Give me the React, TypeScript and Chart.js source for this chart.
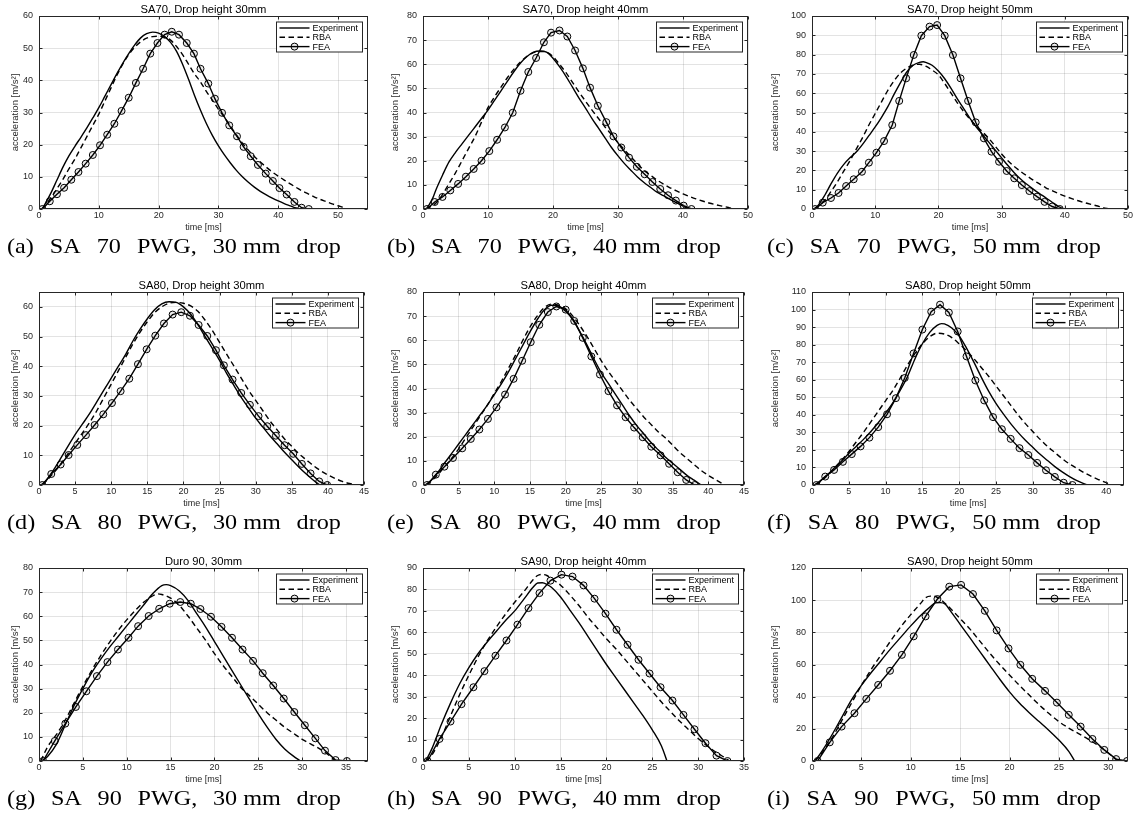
import { useEffect, useRef } from "react";
import { Chart, registerables } from "chart.js";

Chart.register(...registerables);

type Pt = [number, number];

// ---------- (a) SA 70 PWG, 30 mm drop ----------
const expA: Pt[] = [[0.5,0],[1,1.5],[2,5],[3,9],[4,13],[5,16.5],[6,19.5],[7,22.3],[8,25.2],[9,28.3],[10,31.5],[11,35],[12,38.5],[13,42],[14,45.3],[15,48.3],[16,51],[17,53.2],[18,54.5],[19,55],[20,54.7],[21,53.6],[22,51.8],[23,49],[24,45],[25,40.3],[26,35.3],[27,30.7],[28,26.5],[29,22.8],[30,19.6],[31,16.8],[32,14.3],[33,12],[34,10],[35,8.3],[36,6.8],[37,5.5],[38,4.4],[39,3.4],[40,2.5],[41,1.7],[42,1],[43,0.3],[43.6,0]];
const rbaA: Pt[] = [[0.5,0],[1,1],[2,3.5],[3,6.3],[4,9.2],[5,12.5],[6,15.5],[7,19],[8,22.5],[9,26],[10,29.5],[11,33.5],[12,37.5],[13,41.5],[14,45],[15,48],[16,50.3],[17,52],[18,53.1],[19,53.6],[20,53.7],[21,53.4],[22,52.5],[23,50.5],[24,48],[25,45],[26,42],[27,39.5],[28,36.5],[29,33.8],[30,31],[31,28.5],[32,25.8],[33,23],[34,20.5],[35,18.3],[36,16.3],[37,14.6],[38,13],[39,11.5],[40,10.2],[41,9],[42,7.8],[43,6.7],[44,5.6],[45,4.7],[46,3.8],[47,3],[48,2.3],[49,1.6],[50,1],[51,0.4],[51.5,0]];
const feaA: Pt[] = [[0.56,0],[1.8,2.4],[3.0,4.6],[4.2,6.6],[5.4,9.1],[6.6,11.5],[7.8,14.1],[9.0,16.8],[10.2,19.8],[11.4,23.1],[12.6,26.5],[13.8,30.5],[15.0,34.6],[16.2,39.2],[17.4,43.6],[18.6,48.3],[19.8,51.6],[21.0,54.2],[22.2,55.1],[23.4,54.2],[24.7,51.6],[25.9,48.3],[27.0,43.6],[28.3,39.0],[29.4,34.3],[30.6,29.9],[31.8,26.0],[33.1,22.6],[34.2,19.3],[35.4,16.4],[36.6,13.7],[37.9,11.0],[39.1,8.7],[40.2,6.5],[41.4,4.5],[42.7,2.2],[43.9,0.4],[45.1,0]];

// ---------- (b) SA 70 PWG, 40 mm drop ----------
const expB: Pt[] = [[0.5,0],[1,2],[1.5,4.5],[2,8],[3,14],[4,19.5],[5,23.5],[6,27],[7,30.5],[8,34],[9,37.5],[10,41],[11,45],[12,49],[13,53],[14,57],[15,60.5],[16,63.2],[17,65],[18,65.5],[19,65],[20,62.5],[21,59],[22,55],[23,50.5],[24,46],[25,41.8],[26,37.5],[27,33.5],[28,29.5],[29,25.5],[30,22],[31,18.8],[32,16],[33,13.3],[34,11],[35,9],[36,7],[37,5.5],[38,4],[39,2.6],[40,1.2],[40.8,0]];
const rbaB: Pt[] = [[0.5,0],[1,0.8],[2,2.5],[3,6],[4,10.5],[5,15],[6,20],[7,25],[8,30],[9,36],[10,42],[11,46.5],[12,50.5],[13,54.5],[14,58],[15,61],[16,63.3],[17,64.8],[18,65.3],[19,65],[20,63.2],[21,60],[22,56.5],[23,52.5],[24,48.5],[25,44.7],[26,41],[27,37.5],[28,34],[29,30.8],[30,27.5],[31,24.5],[32,21.5],[33,18.7],[34,16],[35,14],[36,12],[37,10.3],[38,8.8],[39,7.5],[40,6.3],[41,5.2],[42,4.2],[43,3.3],[44,2.5],[45,1.8],[46,1.2],[47,0.6],[48,0]];
const feaB: Pt[] = [[0.6,0],[1.8,2.9],[3.0,5.0],[4.2,7.7],[5.4,10.4],[6.6,13.4],[7.8,16.6],[9.0,20.0],[10.2,24.0],[11.4,28.7],[12.6,33.8],[13.8,39.9],[15.0,49.0],[16.2,56.8],[17.4,62.6],[18.6,69.1],[19.7,73.1],[21.0,74.0],[22.2,71.5],[23.4,65.7],[24.6,58.3],[25.7,50.3],[26.9,42.8],[28.2,36.0],[29.3,30.1],[30.5,25.5],[31.7,21.3],[32.9,17.5],[34.1,14.4],[35.3,11.2],[36.5,8.3],[37.7,5.7],[38.9,3.5],[40.1,1.4],[41.3,0]];

// ---------- (c) SA 70 PWG, 50 mm drop ----------
const expC: Pt[] = [[0.3,0],[1,2],[2,7],[3,13],[4,18.5],[5,23],[6,26.5],[7,29.5],[8,33.5],[9,38],[10,42.5],[11,47.5],[12,53],[13,59.5],[14,65.5],[15,71],[16,74.5],[17,76],[17.6,76.3],[18,76],[19,74.5],[20,71.5],[21,67.5],[22,62.5],[23,57],[24,52],[25,47],[26,42.5],[27,38.5],[28,34.5],[29,30.5],[30,26.5],[31,22.5],[32,18.8],[33,15.5],[34,12.8],[35,10.3],[36,8],[37,5.8],[38,3.5],[39,1.3],[39.8,0]];
const rbaC: Pt[] = [[0.5,0],[1,1.5],[2,4.5],[3,9],[4,14],[5,19.5],[6,25],[7,31],[8,37],[9,43.5],[10,49.5],[11,55.5],[12,61.5],[13,66.5],[14,70.5],[15,73],[16,74.5],[17,75],[18,74],[19,72],[20,69.5],[21,65],[22,60],[23,55],[24,50.5],[25,46.5],[26,43],[27,40],[28,36.5],[29,32.5],[30,28.5],[31,25],[32,22],[33,19.5],[34,17.2],[35,15],[36,13],[37,11],[38,9.5],[39,8],[40,6.7],[41,5.5],[42,4.4],[43,3.4],[44,2.5],[45,1.7],[46,0.8],[47,0]];
const feaC: Pt[] = [[0.5,0],[1.7,3.3],[3.0,5.7],[4.2,8.3],[5.4,11.9],[6.6,15.4],[7.9,19.3],[9.0,24],[10.2,29.2],[11.4,35.2],[12.7,43.5],[13.8,56],[14.9,67.7],[16.1,79.8],[17.3,89.8],[18.6,94.5],[19.8,95.3],[21.0,89.8],[22.3,79.8],[23.5,67.7],[24.7,56],[25.9,44.9],[27.2,36.6],[28.4,29.7],[29.6,24.5],[30.8,19.7],[32.0,15.9],[33.2,12.4],[34.4,9.3],[35.6,6.4],[36.8,3.7],[38.0,1.3],[39.2,0]];

// ---------- (d) SA 80 PWG, 30 mm drop ----------
const expD: Pt[] = [[0.3,0],[1,1.5],[2,5],[3,9],[4,13],[5,17],[6,20.5],[7,24],[8,28],[9,32],[10,36],[11,40],[12,44],[13,48.5],[14,52.5],[15,56],[16,59],[17,61],[18,61.7],[19,61.5],[20,60],[21,57.5],[22,54],[23,50],[24,46],[25,42],[26,37.5],[27,33.5],[28,29.5],[29,26],[30,22.5],[31,19.5],[32,16.5],[33,13.8],[34,11],[35,8.5],[36,6],[37,3.7],[38,1.6],[38.9,0]];
const rbaD: Pt[] = [[0.5,0],[1,1.3],[2,4],[3,7],[4,10.5],[5,14],[6,17.5],[7,21],[8,25],[9,29.5],[10,34],[11,38.5],[12,43],[13,47.5],[14,51.5],[15,55],[16,58],[17,60],[18,61.2],[19,61.5],[20,61.2],[21,60.3],[22,58.5],[23,55.5],[24,52],[25,48],[26,44],[27,40],[28,36],[29,32],[30,28.5],[31,25],[32,21.5],[33,18.5],[34,15.5],[35,13],[36,10.5],[37,8.5],[38,6.5],[39,4.8],[40,3.4],[41,2.2],[42,1.2],[43,0.5],[44,0]];
const feaD: Pt[] = [[0.46,0],[1.7,3.7],[3.0,6.9],[4.1,10.1],[5.3,13.5],[6.5,16.8],[7.7,20.2],[8.9,23.8],[10.1,27.6],[11.3,31.6],[12.5,35.8],[13.7,40.7],[14.9,45.7],[16.1,50.3],[17.3,54.4],[18.5,57.4],[19.7,58.2],[20.9,57.0],[22.1,53.9],[23.3,50.2],[24.5,45.4],[25.6,40.3],[26.8,35.5],[28.0,31.0],[29.2,27.0],[30.4,23.2],[31.6,19.8],[32.8,16.6],[34.0,13.4],[35.2,10.5],[36.4,7.1],[37.6,3.9],[38.8,1.2],[39.9,0]];

// ---------- (e) SA 80 PWG, 40 mm drop ----------
const expE: Pt[] = [[0.3,0],[1,1.5],[2,5],[3,9],[4,13],[5,17],[6,21],[7,25],[8,29],[9,33],[10,37.5],[11,42],[12,47],[13,52.5],[14,58],[15,63.5],[16,68.5],[17,72.5],[18,74.5],[19,74.2],[20,72],[21,68.5],[22,63.5],[23,58],[24,52],[25,46.5],[26,42],[27,37.5],[28,33],[29,28.5],[30,24.5],[31,21],[32,17.5],[33,14.5],[34,11.5],[35,9],[36,6.5],[37,4],[38,2],[39,0]];
const rbaE: Pt[] = [[0.5,0],[1,1.2],[2,4],[3,7.5],[4,11],[5,15],[6,19.5],[7,24],[8,28.5],[9,33],[10,38],[11,43],[12,48.5],[13,54],[14,60],[15,65.5],[16,70],[17,73.5],[18,75],[19,74.5],[20,73],[21,70],[22,66],[23,61.5],[24,56.5],[25,51.5],[26,47],[27,43],[28,39],[29,35],[30,31.5],[31,28],[32,25],[33,22],[34,19.5],[35,16.5],[36,13.5],[37,11],[38,8.5],[39,6],[40,4],[41,2.2],[42.3,0]];
const feaE: Pt[] = [[0.56,0],[1.8,4.3],[3.0,7.6],[4.2,11.2],[5.5,15.2],[6.7,19.1],[7.9,23],[9.1,27.4],[10.3,32.2],[11.5,37.5],[12.7,44],[13.9,51.5],[15.1,59.2],[16.3,66.4],[17.5,71.7],[18.7,74],[20.0,72.7],[21.2,68],[22.4,61],[23.6,53.3],[24.8,45.8],[26.0,38.9],[27.2,33],[28.4,28.1],[29.6,23.8],[30.8,19.8],[32.0,15.9],[33.3,12.3],[34.5,8.8],[35.7,5.3],[36.9,2.1],[38.1,0]];

// ---------- (f) SA 80 PWG, 50 mm drop ----------
const expF: Pt[] = [[0.3,0],[1,2],[2,5.5],[3,9.5],[4,13.5],[5,18],[6,22],[7,26],[8,30.5],[9,35.5],[10,41],[11,47],[12,54],[13,62],[14,72],[15,80.5],[16,87],[17,91],[17.6,92],[18,91.8],[19,89.5],[20,85],[21,78],[22,70],[23,61.5],[24,53.5],[25,46.5],[26,40.5],[27,35],[28,30],[29,25.5],[30,21.5],[31,17.5],[32,14],[33,10.5],[34,7.5],[35,4.8],[36,2.5],[37.4,0]];
const rbaF: Pt[] = [[0.5,0],[1,1.5],[2,5],[3,9.5],[4,14],[5,19],[6,24.5],[7,30],[8,36],[9,42],[10,48],[11,54],[12,61],[13,68.5],[14,75],[15,80.5],[16,84.5],[17,86.5],[18,86],[19,84],[20,80.5],[21,76.5],[22,72],[23,67],[24,62],[25,56.5],[26,51],[27,45.5],[28,40],[29,35],[30,30.5],[31,26],[32,22],[33,18.5],[34,15],[35,12],[36,9.5],[37,7],[38,4.8],[39,3],[40,1.3],[40.6,0]];
const feaF: Pt[] = [[0.6,0],[1.8,4.8],[3.0,8.6],[4.2,13.2],[5.4,17.6],[6.6,22.0],[7.8,27.0],[9.0,33.0],[10.2,40.3],[11.4,49.5],[12.6,61.0],[13.8,75.0],[15.0,88.6],[16.2,98.8],[17.4,102.8],[18.6,98.3],[19.8,87.5],[21.0,73.3],[22.2,59.6],[23.4,48.2],[24.6,38.7],[25.8,31.8],[27.0,26.3],[28.2,21.0],[29.4,17.1],[30.6,12.6],[31.8,8.4],[33.0,4.6],[34.2,1.3],[35.4,0]];

// ---------- (g) SA 90 PWG, 30 mm drop ----------
const expG: Pt[] = [[0.3,0],[1,2],[2,7],[3,15],[4,23],[5,30],[6,36.5],[7,42],[8,47],[9,51.5],[10,56],[11,60.5],[12,65],[13,69.5],[14,72.7],[14.5,73.1],[15,72.7],[16,70.5],[17,66.5],[18,61],[19,55.5],[20,49.5],[21,43.5],[22,37.5],[23,31.5],[24,25.5],[25,19.5],[26,14],[27,9],[28,5],[29,2],[29.8,0]];
const rbaG: Pt[] = [[0.2,0],[1,6],[2,11],[3,17],[4,24],[5,31],[6,37.5],[7,43.5],[8,49],[9,54],[10,58.5],[11,62.5],[12,66],[13,68.5],[13.5,69.3],[14,69],[15,67.5],[16,64.5],[17,60],[18,55],[19,50],[20,44.5],[21,39.5],[22,35],[23,30.5],[24,27],[25,23.5],[26,20],[27,17],[28,14],[29,11.5],[30,9],[31,7],[32,5],[33,2.5],[33.8,0]];
const feaG: Pt[] = [[0.46,0],[1.8,8.3],[3.0,15.5],[4.2,22.4],[5.4,28.9],[6.6,35.2],[7.8,41],[9.0,46.2],[10.2,51.1],[11.3,55.9],[12.5,60.1],[13.7,63.1],[14.9,65.2],[16.1,65.9],[17.3,65.2],[18.4,63],[19.6,59.8],[20.8,55.6],[22.0,51.1],[23.2,46.2],[24.4,41.5],[25.5,36.4],[26.7,31.3],[27.9,25.9],[29.1,20.3],[30.3,14.8],[31.5,9.4],[32.6,4.3],[33.8,0.4],[35.1,0]];

// ---------- (h) SA 90 PWG, 40 mm drop ----------
const expH: Pt[] = [[0.3,0],[1,6],[2,17],[3,27],[4,36],[5,43.5],[6,50],[7,55.5],[8,60.5],[9,65.5],[10,70],[11,75.5],[12,81],[12.5,83],[13,83.1],[13.5,82.4],[14,81],[15,76.5],[16,70.5],[17,64.5],[18,58],[19,51.5],[20,45],[21,39],[22,33],[23,27],[24,21],[25,14.5],[26,7],[26.6,0]];
const rbaH: Pt[] = [[0.3,0],[1,3],[2,11],[3,21],[4,31],[5,40],[6,48.5],[7,56],[8,62.5],[9,68.5],[10,74],[11,79],[12,84.5],[12.5,86.5],[13,87],[13.5,86.5],[14,85],[15,82],[16,77.5],[17,72.5],[18,67],[19,62],[20,57],[21,52.5],[22,47.5],[23,42.5],[24,37.5],[25,32.5],[26,27.5],[27,23],[28,18.5],[29,14.5],[30,10.5],[31,7],[32,4],[33,1.3],[33.4,0]];
const feaH: Pt[] = [[0.5,0],[1.8,10.3],[3.0,18.4],[4.2,26.5],[5.5,34.4],[6.7,41.9],[7.9,49.1],[9.1,56.2],[10.3,63.6],[11.5,71.3],[12.7,78.3],[13.9,84.1],[15.1,86.9],[16.3,86],[17.5,81.9],[18.7,75.7],[19.9,68.7],[21.1,61.2],[22.3,54.2],[23.5,47.2],[24.7,40.8],[25.9,34.4],[27.2,28.2],[28.4,21.5],[29.6,14.8],[30.8,8.3],[32.0,2.5],[33.2,0]];

// ---------- (i) SA 90 PWG, 50 mm drop ----------
const expI: Pt[] = [[0.3,0],[1,6],[2,16],[3,27],[4,38],[5,47],[6,55],[7,62.5],[8,70],[9,77],[10,84],[11,90.5],[12,96],[12.5,98.3],[13,98.5],[13.5,97.5],[14,93.5],[15,85],[16,76.5],[17,68],[18,59.5],[19,51],[20,43],[21,36],[22,30],[23,24.5],[24,19],[25,13],[26,6],[26.6,0]];
const rbaI: Pt[] = [[0.3,0],[1,5],[2,14],[3,25],[4,36],[5,47],[6,57],[7,66],[8,75],[9,83.5],[10,91],[11,98],[11.5,101.5],[12,102.5],[12.5,102.3],[13,100.5],[14,95],[15,88.5],[16,82],[17,74.5],[18,67],[19,60],[20,53.5],[21,47],[22,41],[23,35],[24,29.5],[25,24.5],[26,20.5],[27,17],[28,13.5],[29,9.5],[30,5],[30.8,1],[31.2,0]];
const feaI: Pt[] = [[0.57,0],[1.8,11.6],[3.0,21.4],[4.3,29.7],[5.5,38.6],[6.7,47.3],[7.9,56.1],[9.1,66],[10.3,77.5],[11.5,89.9],[12.7,100.7],[13.9,108.4],[15.1,109.5],[16.3,103.8],[17.5,93.4],[18.7,81.2],[19.9,70],[21.1,59.8],[22.3,51.1],[23.6,43.6],[24.8,36.3],[26.0,28.7],[27.2,21.4],[28.4,13.7],[29.6,6.9],[30.8,1.2],[31.9,0]];

// ---------- panel titles, captions and axis ranges ----------
const titles = [
  "SA70, Drop height 30mm", "SA70, Drop height 40mm", "SA70, Drop height 50mm",
  "SA80, Drop height 30mm", "SA80, Drop height 40mm", "SA80, Drop height 50mm",
  "Duro 90, 30mm", "SA90, Drop height 40mm", "SA90, Drop height 50mm",
];
const captions = [
  ["(a)", "SA", "70", "PWG,", "30 mm", "drop"],
  ["(b)", "SA", "70", "PWG,", "40 mm", "drop"],
  ["(c)", "SA", "70", "PWG,", "50 mm", "drop"],
  ["(d)", "SA", "80", "PWG,", "30 mm", "drop"],
  ["(e)", "SA", "80", "PWG,", "40 mm", "drop"],
  ["(f)", "SA", "80", "PWG,", "50 mm", "drop"],
  ["(g)", "SA", "90", "PWG,", "30 mm", "drop"],
  ["(h)", "SA", "90", "PWG,", "40 mm", "drop"],
  ["(i)", "SA", "90", "PWG,", "50 mm", "drop"],
];
const xMaxes = [55, 50, 50, 45, 45, 42.4, 37.5, 35, 32];
const xSteps = [10, 10, 10, 5, 5, 5, 5, 5, 5];
const yMaxes = [60, 80, 100, 65, 80, 110, 80, 90, 120];
const ySteps = [10, 10, 10, 10, 10, 10, 10, 10, 20];
const seriesLabels = ["Experiment", "RBA", "FEA"];
const experiment = [expA, expB, expC, expD, expE, expF, expG, expH, expI];
const rba = [rbaA, rbaB, rbaC, rbaD, rbaE, rbaF, rbaG, rbaH, rbaI];
const fea = [feaA, feaB, feaC, feaD, feaE, feaF, feaG, feaH, feaI];

// ---------- layout (page pixels) ----------
const COL_START = [0, 380, 760];
const ROW_TOP = [16, 292, 568];
const PLOT_LEFT = [[39, 423, 812], [39, 423, 812], [39, 423, 812]];
const PLOT_RIGHT = [[368, 748, 1128], [364, 744, 1124], [368, 744, 1128]];
const PLOT_H = 193;
const TOP_PAD = 16;
const RIGHT_PAD = 10;
const X_AXIS_H = 30;
const CAPTION_DY = 218; // caption top below plot top
const CAPTION_DX = 7;
const CAPTION_STRETCH = 1.1;
const CAPTION_W = 334;

const SANS = '"Liberation Sans", Arial, Helvetica, sans-serif';
const SERIF = '"Liberation Serif", "Times New Roman", serif';
const INK = "#262626";
const GRID = "rgba(38,38,38,0.13)";
const DASH = [5.5, 3.5];
const LINE_W = 1.4;
const MARK_R = 3.5;

const toXY = (pts: Pt[]) => pts.map(([x, y]) => ({ x, y }));

function framePlugin(title: string) {
  return {
    id: "matlabFrame",
    afterDraw(chart: any) {
      const { ctx, chartArea: a, scales } = chart;
      const L = Math.round(a.left) + 0.5;
      const R = Math.round(a.right) - 0.5;
      const T = Math.round(a.top) + 0.5;
      const B = Math.round(a.bottom) - 0.5;
      ctx.save();
      // axes box
      ctx.strokeStyle = INK;
      ctx.lineWidth = 1;
      ctx.setLineDash([]);
      ctx.strokeRect(L, T, R - L, B - T);
      // inward tick marks on all four sides
      const tl = 3;
      ctx.beginPath();
      for (const t of scales.x.ticks) {
        const x = Math.round(scales.x.getPixelForValue(t.value)) + 0.5;
        ctx.moveTo(x, B); ctx.lineTo(x, B - tl);
        ctx.moveTo(x, T); ctx.lineTo(x, T + tl);
      }
      for (const t of scales.y.ticks) {
        const y = Math.round(scales.y.getPixelForValue(t.value)) + 0.5;
        ctx.moveTo(L, y); ctx.lineTo(L + tl, y);
        ctx.moveTo(R, y); ctx.lineTo(R - tl, y);
      }
      ctx.stroke();

      // title, slightly widened like the exported figure
      ctx.save();
      ctx.translate((a.left + a.right) / 2, a.top - 6);
      ctx.scale(1.12, 1);
      ctx.fillStyle = "#000";
      ctx.font = `10px ${SANS}`;
      ctx.textAlign = "center";
      ctx.textBaseline = "middle";
      ctx.fillText(title, 0, 0);
      ctx.restore();

      // legend box in the upper-right corner
      ctx.font = `9px ${SANS}`;
      const labels: string[] = chart.data.datasets.map((d: any) => d.label);
      const tw = Math.max(...labels.map((s) => ctx.measureText(s).width));
      const bw = Math.round(36 + tw + 4);
      const bh = 30;
      const bx = Math.round(R - 6 - bw) + 0.5;
      const by = Math.round(T + 5);
      ctx.fillStyle = "#fff";
      ctx.fillRect(bx, by, bw, bh);
      ctx.strokeStyle = INK;
      ctx.lineWidth = 1;
      ctx.strokeRect(bx, by, bw, bh);
      labels.forEach((lab, i) => {
        const y = by + 6 + i * 9.3;
        const ds = chart.data.datasets[i];
        ctx.strokeStyle = "#000";
        ctx.lineWidth = LINE_W;
        ctx.setLineDash(ds.borderDash || []);
        ctx.beginPath();
        ctx.moveTo(bx + 3, y);
        ctx.lineTo(bx + 33, y);
        ctx.stroke();
        ctx.setLineDash([]);
        if (ds.pointRadius > 0) {
          ctx.beginPath();
          ctx.arc(bx + 18, y, ds.pointRadius, 0, Math.PI * 2);
          ctx.fillStyle = "rgba(0,0,0,0.08)";
          ctx.fill();
          ctx.lineWidth = 1;
          ctx.stroke();
        }
        ctx.fillStyle = "#000";
        ctx.textAlign = "left";
        ctx.textBaseline = "middle";
        ctx.fillText(lab, bx + 36, y + 0.5);
      });
      ctx.restore();
    },
  };
}

function Panel({ idx }: { idx: number }) {
  const ref = useRef<HTMLCanvasElement>(null);
  const row = Math.floor(idx / 3);
  const col = idx % 3;
  const colStart = COL_START[col];
  const plotLeft = PLOT_LEFT[row][col];
  const plotRight = PLOT_RIGHT[row][col];
  const width = plotRight + RIGHT_PAD - colStart;
  const height = TOP_PAD + PLOT_H + X_AXIS_H;
  const top = ROW_TOP[row] - TOP_PAD;

  useEffect(() => {
    const tickFont = { family: SANS, size: 9 };
    const labelFont = { family: SANS, size: 9.5 };
    const chart = new Chart(ref.current as HTMLCanvasElement, {
      type: "line",
      data: {
        datasets: [
          {
            label: seriesLabels[0],
            data: toXY(experiment[idx]),
            borderColor: "#000",
            borderWidth: LINE_W,
            pointRadius: 0,
            cubicInterpolationMode: "monotone",
            fill: false,
          },
          {
            label: seriesLabels[1],
            data: toXY(rba[idx]),
            borderColor: "#000",
            borderWidth: LINE_W,
            borderDash: DASH,
            pointRadius: 0,
            cubicInterpolationMode: "monotone",
            fill: false,
          },
          {
            label: seriesLabels[2],
            data: toXY(fea[idx]),
            borderColor: "#000",
            borderWidth: LINE_W,
            pointRadius: MARK_R,
            pointBorderWidth: 1,
            pointBorderColor: "#000",
            pointBackgroundColor: "rgba(0,0,0,0.08)",
            tension: 0,
            fill: false,
          },
        ] as any,
      },
      options: {
        responsive: false,
        animation: false,
        events: [],
        layout: { padding: { top: TOP_PAD, right: RIGHT_PAD, left: 0, bottom: 0 } },
        plugins: {
          legend: { display: false },
          tooltip: { enabled: false },
          title: { display: false },
        },
        scales: {
          x: {
            type: "linear",
            min: 0,
            max: xMaxes[idx],
            afterFit: (s: any) => { s.height = X_AXIS_H; },
            ticks: {
              stepSize: xSteps[idx],
              includeBounds: false,
              autoSkip: false,
              maxRotation: 0,
              padding: 1,
              color: INK,
              font: tickFont,
            },
            grid: { color: GRID, drawTicks: false, lineWidth: 1 },
            border: { display: false },
            title: {
              display: true,
              text: "time [ms]",
              color: INK,
              font: tickFont,
              padding: { top: 0, bottom: 6 },
            },
          },
          y: {
            type: "linear",
            min: 0,
            max: yMaxes[idx],
            afterFit: (s: any) => { s.width = plotLeft - colStart; },
            ticks: {
              stepSize: ySteps[idx],
              includeBounds: false,
              autoSkip: false,
              padding: 6,
              color: INK,
              font: tickFont,
            },
            grid: { color: GRID, drawTicks: false, lineWidth: 1 },
            border: { display: false },
            title: {
              display: true,
              text: "acceleration [m/s²]",
              color: INK,
              font: labelFont,
              padding: { top: 9.3, bottom: 0 },
            },
          },
        },
      } as any,
      plugins: [framePlugin(titles[idx])],
    });
    return () => chart.destroy();
  }, [idx, plotLeft, colStart]);

  return (
    <>
      <canvas
        ref={ref}
        width={width}
        height={height}
        style={{ position: "absolute", left: colStart, top, width, height }}
      />
      <div
        style={{
          position: "absolute",
          left: colStart + CAPTION_DX,
          top: ROW_TOP[row] + CAPTION_DY,
          width: CAPTION_W / CAPTION_STRETCH,
          display: "flex",
          justifyContent: "space-between",
          fontFamily: SERIF,
          fontSize: 22,
          lineHeight: "24px",
          whiteSpace: "nowrap",
          color: "#000",
          transform: `scaleX(${CAPTION_STRETCH})`,
          transformOrigin: "left top",
        }}
      >
        {captions[idx].map((w, k) => (
          <span key={k}>{w}</span>
        ))}
      </div>
    </>
  );
}

export default function App() {
  return (
    <div
      style={{
        position: "absolute",
        left: 0,
        top: 0,
        width: 1146,
        height: 819,
        background: "#fff",
        overflow: "hidden",
      }}
    >
      {titles.map((_, i) => (
        <Panel key={i} idx={i} />
      ))}
    </div>
  );
}
